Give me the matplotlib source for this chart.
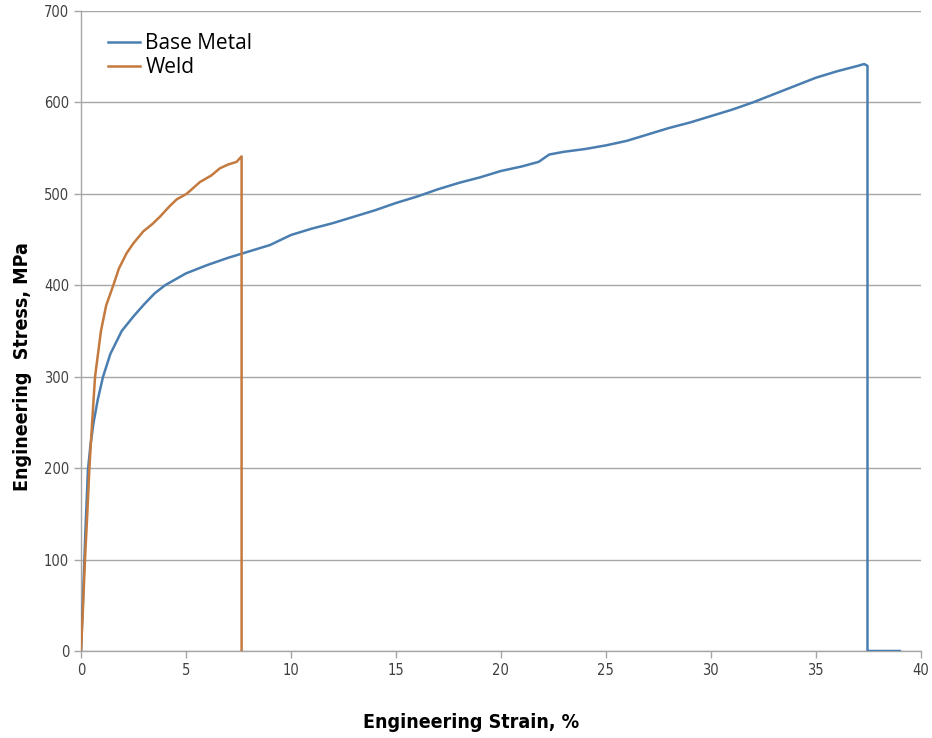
import matplotlib
matplotlib.use("Agg")
import matplotlib.pyplot as plt

# ---- data ----
base_strain = [0, 0.1, 0.2, 0.33, 0.45, 0.6, 0.8, 1.05, 1.4, 1.94, 2.5, 3.0, 3.5, 4.0,
               5.0, 6.0, 7.0, 8.0, 9.0, 10, 11, 12, 13, 14, 15, 16, 17, 18, 19, 20,
               21, 21.8, 22.3, 23, 24, 25, 26, 27, 28, 29, 30, 31, 32, 33, 34, 35,
               36, 37, 37.3, 37.46, 37.46, 37.6, 39.0]
base_stress = [0, 60, 125, 198, 225, 250, 275, 300, 325, 350, 366, 379, 391, 400,
               413, 422, 430, 437, 444, 455, 462, 468, 475, 482, 490, 497, 505, 512,
               518, 525, 530, 535, 543, 546, 549, 553, 558, 565, 572, 578, 585, 592,
               600, 609, 618, 627, 634, 640, 642, 640, 0, 0, 0]

weld_strain = [0, 0.1, 0.19, 0.3, 0.4, 0.53, 0.67, 0.95, 1.2, 1.54, 1.8, 2.17, 2.5,
               2.97, 3.4, 3.76, 4.2, 4.56, 5.03, 5.67, 6.2, 6.62, 7.0, 7.41, 7.65, 7.65]
weld_stress = [0, 50, 100, 150, 200, 250, 300, 350, 378, 400, 418, 435, 446, 459,
               467, 475, 486, 494, 500, 513, 520, 528, 532, 535, 541, 0]

series_labels = ["Base Metal", "Weld"]
x_ticks = [0, 5, 10, 15, 20, 25, 30, 35, 40]
y_ticks = [0, 100, 200, 300, 400, 500, 600, 700]

plt.rcParams['font.family'] = ['Open Sans', 'DejaVu Sans']

fig = plt.figure(figsize=(9.32, 7.38), dpi=100)
ax = fig.add_axes([0.0869, 0.1179, 0.9011, 0.8672])

blue = '#4a7eb0'
orange = '#c47a3e'
ax.plot(base_strain, base_stress, color=blue, lw=1.8, label=series_labels[0], zorder=3)
ax.plot(weld_strain, weld_stress, color=orange, lw=1.8, label=series_labels[1], zorder=4)

ax.set_xlim(0, 40)
ax.set_ylim(0, 700)
ax.set_xticks(x_ticks)
ax.set_yticks(y_ticks)
ax.yaxis.grid(True, color='#a6a6a6', lw=1)
ax.set_axisbelow(True)
for s in ['top', 'right']:
    ax.spines[s].set_visible(False)
for s in ['left', 'bottom']:
    ax.spines[s].set_color('#a6a6a6')
    ax.spines[s].set_linewidth(1)
ax.tick_params(axis='both', colors='#a6a6a6', length=5, width=1, labelcolor='#404040')
for lab in ax.get_xticklabels() + ax.get_yticklabels():
    lab.set_fontfamily('DejaVu Sans')
    lab.set_fontstretch('condensed')
    lab.set_fontsize(10.5)

ax.set_xlabel("Engineering Strain, %", fontsize=14, fontweight='bold',
              family=['DejaVu Sans'], fontstretch='condensed', va='center')
ax.xaxis.set_label_coords(0.464, -0.111)
ax.set_ylabel("Engineering  Stress, MPa", fontsize=14, fontweight='bold',
              family=['DejaVu Sans'], fontstretch='condensed', va='center')
ax.yaxis.set_label_coords(-0.07, 0.445)

leg = ax.legend(loc='upper left', bbox_to_anchor=(0.032, 0.965), frameon=False,
                fontsize=15, handlelength=1.55, handletextpad=0.25, labelspacing=0.12,
                borderaxespad=0, borderpad=0)

fig.savefig("out.png", dpi=100)
